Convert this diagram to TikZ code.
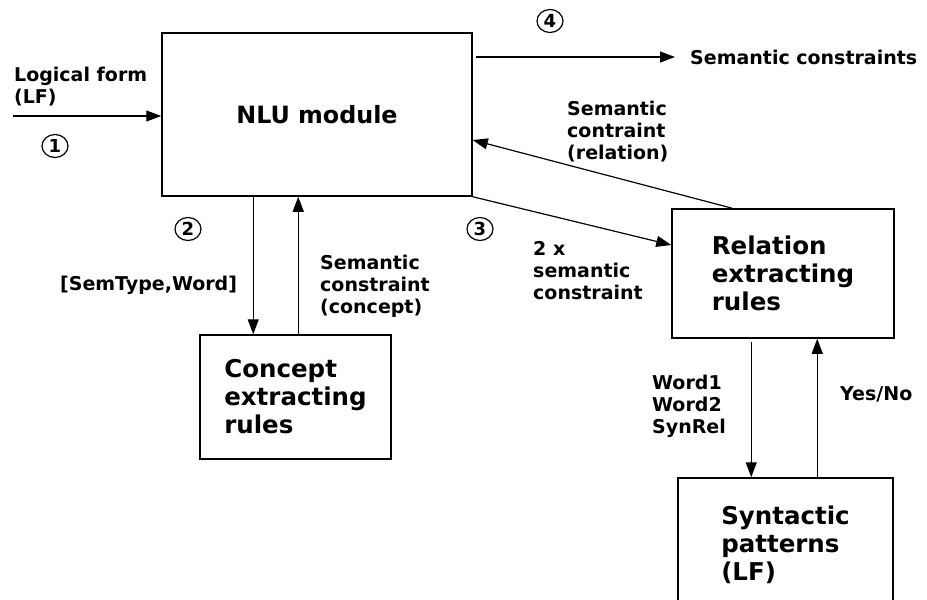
\documentclass[tikz,border=0pt]{standalone}
\usepackage{fontspec}
\setmainfont{DejaVu Sans}
\usetikzlibrary{arrows.meta,shapes.geometric,calc}

\tikzset{
  box/.style={draw, line width=1.5pt, align=left, inner sep=0pt,
              font=\bfseries\fontsize{24.5}{28}\selectfont},
  lbl/.style={align=left, inner sep=0pt,
              font=\bfseries\fontsize{19}{22}\selectfont},
  num/.style={draw, ellipse, line width=1.2pt, minimum width=26pt,
              minimum height=23pt, inner sep=0pt,
              font=\bfseries\fontsize{18}{20}\selectfont},
  arr/.style={-{Triangle[length=15pt,width=11pt]}, line width=1.2pt},
}

\begin{document}
\begin{tikzpicture}[x=1pt,y=-1pt]
\useasboundingbox (0,0) rectangle (927,600);
\clip (0,0) rectangle (927,600);
\fill[white] (0,0) rectangle (927,600);

% processing blocks
\node[box, minimum width=310pt, minimum height=163pt,
      font=\bfseries\fontsize{23.8}{28}\selectfont] (nlu) at (317,114.5) {NLU module};
\node[box, minimum width=222pt, minimum height=129pt] (rel) at (783,273.5)
  {Relation\\extracting\\rules};
\node[box, minimum width=191pt, minimum height=124pt] (con) at (295.5,397)
  {Concept\\extracting\\rules};
\node[box, minimum width=215pt, minimum height=134pt] (syn) at (785.5,545)
  {Syntactic\\patterns\\(LF)};

% free ends of the input and output lines
\coordinate (lfin) at (13,116);
\coordinate (outend) at (675,57);

% connectors
\draw[arr] (lfin) -- (lfin -| nlu.west);
\draw[arr] ([xshift=3pt]nlu.east |- outend) -- (outend);
\draw[arr] ([xshift=92pt]nlu.south west) -- ([xshift=92pt]nlu.south west |- con.north);
\draw[arr] ([xshift=137pt]nlu.south west |- con.north) -- ([xshift=137pt]nlu.south west);
\draw[arr] (nlu.south east) -- ([yshift=28.5pt]rel.west);
\draw[arr] ([xshift=61pt]rel.north west) -- ([yshift=-25.5pt]nlu.east);
\draw[arr] ([xshift=80pt,yshift=-3pt]rel.south west) -- ([xshift=80pt]rel.south west |- syn.north);
\draw[arr] ([xshift=146pt]rel.south west |- syn.north) -- ([xshift=146pt]rel.south west);

% step numbers
\node[num] (n1) at (55,146) {1};
\node[num] (n2) at (188,229) {2};
\node[num] (n3) at (480,229) {3};
\node[num] (n4) at (550,21) {4};

% connector labels
\node[lbl, anchor=north west] (tlf) at (14,67) {Logical form\\(LF)};
\node[lbl, anchor=west] (tout) at (690,57) {Semantic constraints};
\node[lbl, anchor=north west] (trel) at (567,101) {Semantic\\contraint\\(relation)};
\node[lbl, anchor=north west] (ttwo) at (533,241) {2 x\\semantic\\constraint};
\node[lbl, anchor=north west] (tsem) at (60,276) {[SemType,Word]};
\node[lbl, anchor=north west] (tcon) at (320,255) {Semantic\\constraint\\(concept)};
\node[lbl, anchor=north west] (tword) at (652,375) {Word1\\Word2\\SynRel};
\node[lbl, anchor=west] (tyes) at (840,394) {Yes/No};
\end{tikzpicture}
\end{document}
